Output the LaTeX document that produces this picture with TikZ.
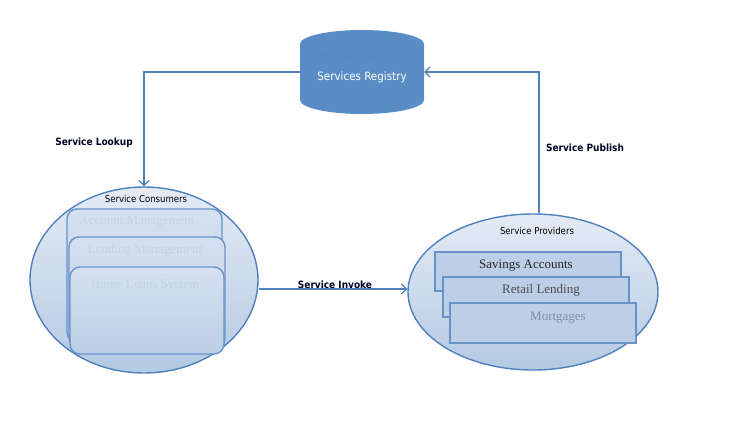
\documentclass[tikz,border=0pt]{standalone}
\usepackage{fontspec}
\setmainfont{Liberation Serif}
\newfontfamily\condfont{DejaVu Sans Condensed}
\usetikzlibrary{shapes.geometric,arrows.meta}
\definecolor{lineblue}{HTML}{4F81BD}
\definecolor{cylblue}{HTML}{5A8CC6}
\definecolor{elltop}{HTML}{E4EBF5}
\definecolor{ellbot}{HTML}{B4C9E3}
\definecolor{boxedge}{HTML}{6893C9}
\definecolor{boxfill}{HTML}{BCCFE6}
\definecolor{fainttext}{HTML}{C3D1E6}
\definecolor{mortext}{HTML}{7D8FAA}
\tikzset{
  conn/.style={draw=lineblue, line width=1.4pt, -{Straight Barb[length=5pt,width=10pt,line width=1.2pt]}},
  lbl/.style={font=\condfont\bfseries\fontsize{10}{12}\selectfont, text=black!85!blue, inner sep=0pt},
  grp/.style={ellipse, draw=lineblue, line width=1.4pt, top color=elltop, bottom color=ellbot, inner sep=0pt},
  grptitle/.style={font=\condfont\fontsize{9.5}{11}\selectfont, inner sep=0pt},
  sysbox/.style={draw=boxedge, line width=1.4pt, rounded corners=10pt, top color=elltop!70!ellbot, bottom color=ellbot!90!white},
  systext/.style={font=\fontsize{13}{15}\selectfont, text=fainttext, inner sep=0pt},
  provbox/.style={draw=boxedge, line width=1.4pt, fill=boxfill},
  provtext/.style={font=\fontsize{13}{15}\selectfont, inner sep=0pt},
}
\begin{document}
\begin{tikzpicture}[x=1pt,y=-1pt]
\useasboundingbox (0,0) rectangle (756,431);
% registry cylinder
\fill[cylblue] (300,44) -- (300,100) arc[start angle=180,end angle=0,x radius=62,y radius=14] -- (424,44) arc[start angle=0,end angle=-180,x radius=62,y radius=14] -- cycle;
\draw[cylblue!75!black, line width=0.4pt, dotted] (300,44) arc[start angle=180,end angle=0,x radius=62,y radius=14];
\node[minimum width=124pt, minimum height=84pt, inner sep=0pt] (registry) at (362,72) {};
\node[font=\condfont\fontsize{11.5}{13}\selectfont, text=white, inner sep=0pt] (regtext) at (362,77) {Services Registry};

% consumers
\node[grp, minimum width=228pt, minimum height=186pt] (consumers) at (144,280) {};
\node[grptitle] (ctitle) at (146,199) {Service Consumers};
\draw[sysbox] (67,209) rectangle (222,342);
\node[systext] (acct) at (137,222) {Account Management};
\draw[sysbox] (69,237) rectangle (225,348);
\node[systext] (lend) at (145,250) {Lending Management};
\draw[sysbox] (70,267) rectangle (224,354);
\node[systext] (home) at (145,286) {Home Loans System};

% providers
\node[grp, minimum width=250pt, minimum height=156pt] (providers) at (533,292) {};
\node[grptitle] (ptitle) at (537,231) {Service Providers};
\node[provbox, minimum width=186pt, minimum height=39pt, inner sep=0pt] (savings) at (528,271.5) {};
\node[provtext, text=black!85] at (526,266) {Savings Accounts};
\node[provbox, minimum width=186pt, minimum height=40pt, inner sep=0pt] (retail) at (536,297) {};
\node[provtext, text=black!70] at (541,290) {Retail Lending};
\node[provbox, minimum width=186pt, minimum height=40pt, inner sep=0pt] (mort) at (543,323) {};
\node[provtext, text=mortext] at (558,318) {Mortgages};

% connectors
\draw[conn] (registry.west) -| (consumers.north);
\draw[conn] ([xshift=6pt]providers.north) |- (registry.east);
\draw[conn] ([yshift=3pt]consumers.east |- providers.west) -- ([yshift=3pt]providers.west);

% labels
\node[lbl] (lookup) at (94,143) {Service Lookup};
\node[lbl] (publish) at (585,148) {Service Publish};
\node[lbl] (invoke) at (335,285) {Service Invoke};
\end{tikzpicture}
\end{document}
